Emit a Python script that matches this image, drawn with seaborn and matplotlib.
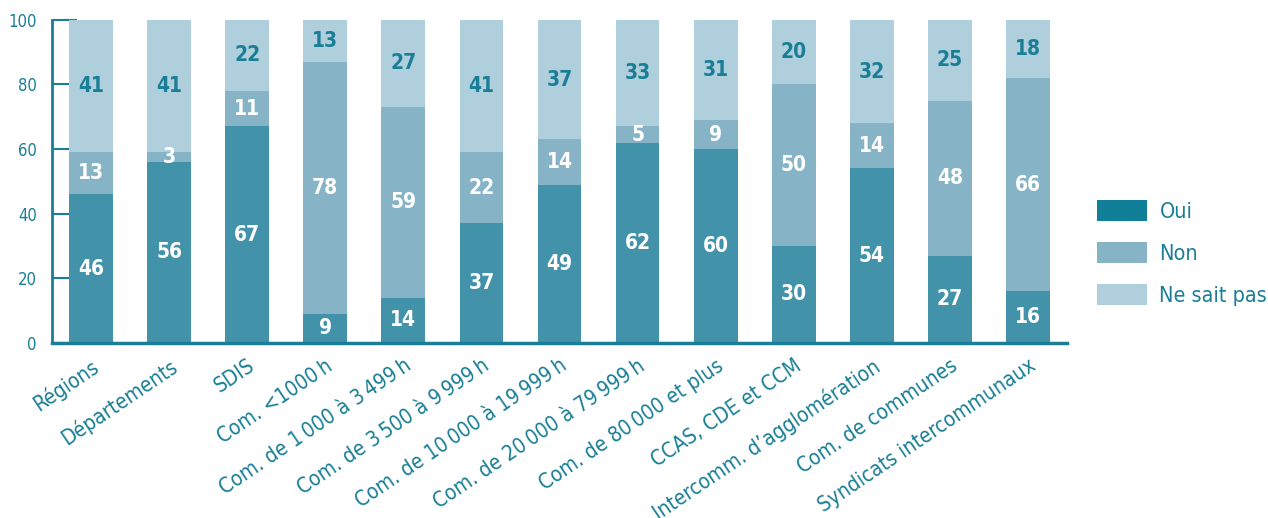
import matplotlib
matplotlib.use("Agg")
import matplotlib.pyplot as plt
from matplotlib.patches import Patch
import pandas as pd
import seaborn as sns

# chart values (percent)
categories = [
    "Régions", "Départements", "SDIS", "Com. <1000\u2009h",
    "Com. de 1\u2009000 à 3\u2009499\u2009h", "Com. de 3\u2009500 à 9\u2009999\u2009h",
    "Com. de 10\u2009000 à 19\u2009999\u2009h", "Com. de 20\u2009000 à 79\u2009999\u2009h",
    "Com. de 80\u2009000 et plus", "CCAS, CDE et CCM",
    "Intercomm. d\u2019agglomération", "Com. de communes", "Syndicats intercommunaux",
]
oui = [46, 56, 67, 9, 14, 37, 49, 62, 60, 30, 54, 27, 16]
non = [13, 3, 11, 78, 59, 22, 14, 5, 9, 50, 14, 48, 66]
nsp = [41, 41, 22, 13, 27, 41, 37, 33, 31, 20, 32, 25, 18]
series_names = ["Oui", "Non", "Ne sait pas"]

TEAL = "#1a7f96"
BAR_COLORS = ["#4292a9", "#86b4c6", "#afcfdc"]
LEGEND_COLORS = ["#127f98", "#86b4c6", "#afcfdc"]

sns.set_style("white")
plt.rcParams["font.family"] = ["DejaVu Sans"]
plt.rcParams["font.stretch"] = "condensed"

df = pd.DataFrame({"cat": categories, "oui": oui, "non": non, "nsp": nsp})
df["c1"] = df["oui"]
df["c2"] = df["oui"] + df["non"]
df["c3"] = df["c2"] + df["nsp"]

fig = plt.figure(figsize=(12.68, 5.18), dpi=100)
ax = fig.add_axes([0.041, 0.338, 0.8005, 0.6236])

# stacked bars drawn as overlapping cumulative layers
for col, color in zip(["c3", "c2", "c1"], BAR_COLORS[::-1]):
    sns.barplot(data=df, x="cat", y=col, color=color, width=0.56,
                saturation=1, ax=ax, linewidth=0)

# value labels in the middle of each segment
for i, row in df.iterrows():
    segs = [(0, row["oui"]), (row["c1"], row["non"]), (row["c2"], row["nsp"])]
    for k, (base, val) in enumerate(segs):
        ax.text(i, base + val / 2, f"{val}", ha="center", va="center",
                fontsize=15, fontweight="bold",
                color="white" if k < 2 else TEAL)

ax.set_xlim(-0.5, 12.5)
ax.set_ylim(0, 100)
ax.set_yticks([0, 20, 40, 60, 80, 100])
ax.set_xlabel("")
ax.set_ylabel("")

for side in ["top", "right"]:
    ax.spines[side].set_visible(False)
ax.spines["left"].set_color(TEAL)
ax.spines["left"].set_linewidth(2)
ax.spines["bottom"].set_color(TEAL)
ax.spines["bottom"].set_linewidth(2.5)

ax.tick_params(axis="y", direction="in", length=18, width=1.5, color=TEAL,
               labelcolor=TEAL, labelsize=12, pad=11, left=True)
ax.tick_params(axis="x", length=0, labelcolor=TEAL, labelsize=15, pad=9)

for lbl in ax.get_xticklabels():
    lbl.set_rotation(34)
    lbl.set_ha("right")
    lbl.set_va("top")
    lbl.set_rotation_mode("anchor")

handles = [Patch(facecolor=c, edgecolor="none") for c in LEGEND_COLORS]
leg = fig.legend(handles, series_names, loc="upper left",
                 bbox_to_anchor=(1097 / 1268, 1 - 200 / 518),
                 frameon=False, fontsize=15.5, handlelength=2.3, handleheight=1.1,
                 handletextpad=0.6, labelspacing=0.95, borderpad=0,
                 borderaxespad=0)
for t in leg.get_texts():
    t.set_color(TEAL)

fig.savefig("out.png", dpi=100)
